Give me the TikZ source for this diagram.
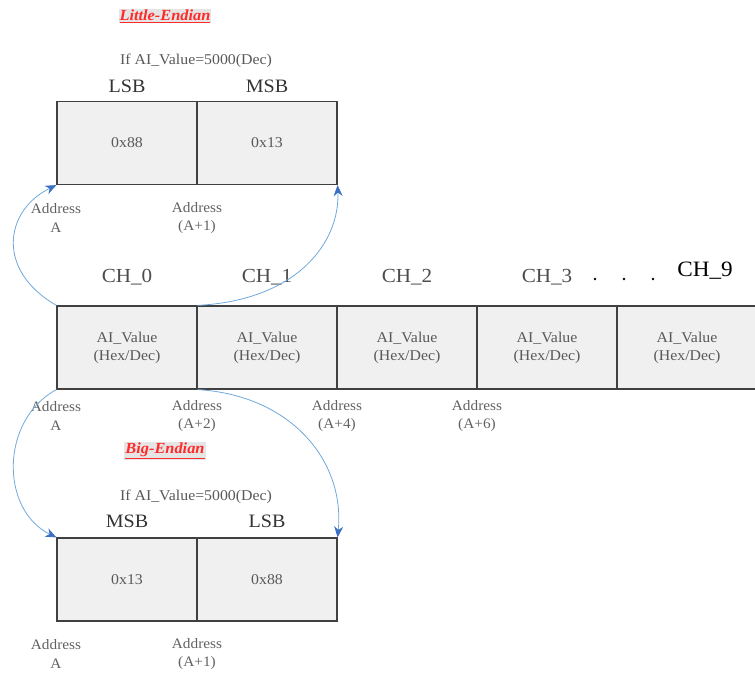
\documentclass[tikz,border=0pt]{standalone}
\usepackage{fontspec}
\setmainfont[FakeStretch=1.06]{Liberation Serif}
\usetikzlibrary{arrows.meta}

\definecolor{linkblue}{HTML}{6FA8DC}
\definecolor{tipblue}{HTML}{3B6FC4}
\definecolor{titlered}{HTML}{FF2A2A}

\begin{document}
\begin{tikzpicture}[x=1bp, y=-1bp,
    cell/.style={draw=black!75, fill=black!6, line width=1.2bp, minimum width=140bp,
      minimum height=83bp, inner sep=0pt, align=center, text=black!65,
      font=\fontsize{15}{18}\selectfont},
    addr/.style={align=center, text=black!62, font=\fontsize{14.5}{19}\selectfont},
    note/.style={text=black!65, font=\fontsize{15}{18}\selectfont},
    byte/.style={text=black!80, font=\fontsize{19}{22}\selectfont},
    chan/.style={text=black!70, font=\fontsize{20}{22}\selectfont},
    title/.style={fill=black!10, inner sep=1bp, text=titlered,
      font=\fontsize{15.5}{18}\selectfont\bfseries\itshape},
    link/.style={draw=linkblue, line width=0.8bp, -{Stealth[length=11bp,width=9bp,color=tipblue]}}
]
\useasboundingbox (0,0) rectangle (755,675);

% little endian
\node[title] (letitle) at (165,16) {\underline{Little-Endian}};
\node[note] (leif) at (196,61) {If AI\_Value=5000(Dec)};
\node[byte] (lelsb) at (127,86) {LSB};
\node[byte] (lemsb) at (267,86) {MSB};
\node[cell] (le0) at (127,143) {0x88};
\node[cell] (le1) at (267,143) {0x13};
\node[addr] (leaddr0) at (56,218) {Address\\A};
\node[addr] (leaddr1) at (197,218) {Address\\(A+1)};

% channels
\foreach \i/\x in {0/127,1/267,2/407,3/547,4/687}
  \node[cell] (ch\i) at (\x,347.5) {AI\_Value\\(Hex/Dec)};
\node[chan] (chlab0) at (127,277) {CH\_0};
\node[chan] (chlab1) at (267,277) {CH\_1};
\node[chan] (chlab2) at (407,277) {CH\_2};
\node[chan] (chlab3) at (547,277) {CH\_3};
\foreach \x in {595,624,653}
  \fill (\x,279) circle (1.4);
\node[text=black, font=\fontsize{22}{24}\selectfont] (chlab9) at (705,271) {CH\_9};
\node[addr] (chaddr0) at (56,416) {Address\\A};
\node[addr] (chaddr2) at (197,416) {Address\\(A+2)};
\node[addr] (chaddr4) at (337,416) {Address\\(A+4)};
\node[addr] (chaddr6) at (477,416) {Address\\(A+6)};

% big endian
\node[title] (betitle) at (165,451) {\underline{Big-Endian}};
\node[note] (beif) at (196,497) {If AI\_Value=5000(Dec)};
\node[byte] (bemsb) at (127,521) {MSB};
\node[byte] (belsb) at (267,521) {LSB};
\node[cell] (be0) at (127,579.5) {0x13};
\node[cell] (be1) at (267,579.5) {0x88};
\node[addr] (beaddr0) at (56,654) {Address\\A};
\node[addr] (beaddr1) at (197,654) {Address\\(A+1)};

% links
\draw[link] (ch0.north west) .. controls (-5,270) and (5,210) .. (le0.south west);
\draw[link] (ch0.north east) .. controls (300,300) and (340,240) .. (le1.south east);
\draw[link] (ch0.south west) .. controls (0,420) and (0,510) .. (be0.north west);
\draw[link] (ch0.south east) .. controls (290,395) and (345,460) .. (be1.north east);
\end{tikzpicture}
\end{document}
